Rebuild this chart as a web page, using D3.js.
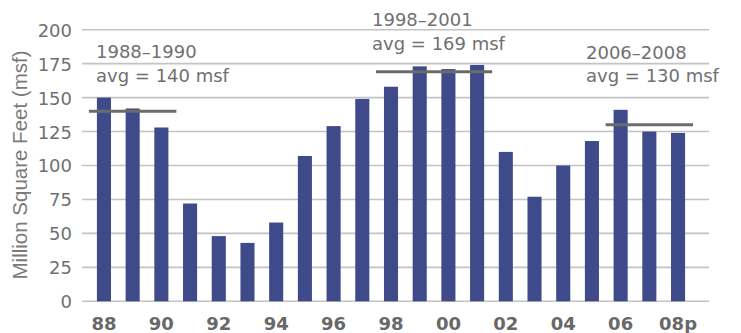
<!DOCTYPE html>
<html>
<head>
<meta charset="utf-8">
<script src="https://cdn.jsdelivr.net/npm/d3@7"></script>
<style>
  html, body { margin: 0; padding: 0; background: #fff; }
  svg { display: block; }
</style>
</head>
<body>
<svg id="chart" width="741" height="333"></svg>
<script>
// Annual completions, million square feet
const years = ["88","89","90","91","92","93","94","95","96","97","98","99","00","01","02","03","04","05","06","07","08p"];
const completions = [150, 142, 128, 72, 48, 43, 58, 107, 129, 149, 158, 173, 171, 174, 110, 77, 100, 118, 141, 125, 124];
const yTicks = [0, 25, 50, 75, 100, 125, 150, 175, 200];
const xTickLabels = ["88","90","92","94","96","98","00","02","04","06","08p"];

// Period averages
const periodNames = ["1988\u20131990", "1998\u20132001", "2006\u20132008"];
const periodStart = ["88", "98", "06"];
const periodEnd = ["90", "01", "08p"];
const periodAvg = [140, 169, 130];

const svg = d3.select("#chart");

const y = d3.scaleLinear().domain([0, 200]).range([301.3, 29.7]);
const x = d3.scaleBand().domain(years).range([89.6, 692.4]).paddingInner(0.51).paddingOuter(0.255);

const gridLeft = 82, gridRight = 709;

// Horizontal gridlines
svg.append("g")
  .selectAll("line")
  .data(yTicks)
  .join("line")
  .attr("x1", gridLeft).attr("x2", gridRight)
  .attr("y1", d => y(d)).attr("y2", d => y(d))
  .attr("stroke", "#c3c3c3")
  .attr("stroke-width", 1.6);

// Y axis labels
const yAxis = d3.axisLeft(y).tickValues(yTicks).tickSize(0).tickPadding(0);
const gy = svg.append("g").attr("transform", `translate(72,0)`).call(yAxis);
gy.select(".domain").remove();
gy.selectAll("text")
  .attr("font-family", "DejaVu Sans")
  .attr("font-size", 18)
  .attr("fill", "#707070")
  .attr("dy", "0.36em");

// Bars
svg.append("g")
  .selectAll("rect")
  .data(completions)
  .join("rect")
  .attr("x", (d, i) => x(years[i]))
  .attr("width", x.bandwidth())
  .attr("y", d => y(d))
  .attr("height", d => y(0) - y(d))
  .attr("fill", "#3e4a8a");

// X axis labels (every other year)
const xAxis = d3.axisBottom(x).tickValues(xTickLabels).tickSize(0).tickPadding(0);
const gx = svg.append("g").attr("transform", `translate(0,${y(0)})`).call(xAxis);
gx.select(".domain").remove();
gx.selectAll("text")
  .attr("font-family", "DejaVu Sans")
  .attr("font-weight", "bold")
  .attr("font-size", 18)
  .attr("fill", "#686868")
  .attr("dy", null)
  .attr("y", 28.5);

// Average lines
svg.append("g")
  .selectAll("line")
  .data(periodAvg)
  .join("line")
  .attr("x1", (d, i) => x(periodStart[i]) - 8)
  .attr("x2", (d, i) => x(periodEnd[i]) + x.bandwidth() + 8)
  .attr("y1", d => y(d)).attr("y2", d => y(d))
  .attr("stroke", "#6b6b6b")
  .attr("stroke-width", 3);

// Period annotations
const labelX = [96, 372, 586];
const labelY = [58, 26, 58.5];
const ann = svg.append("g")
  .attr("font-family", "DejaVu Sans")
  .attr("font-size", 18)
  .attr("fill", "#707070");
periodNames.forEach((name, i) => {
  const t = ann.append("text").attr("x", labelX[i]).attr("y", labelY[i]);
  t.append("tspan").attr("x", labelX[i]).text(name);
  t.append("tspan").attr("x", labelX[i]).attr("dy", 23.5).text(`avg = ${periodAvg[i]} msf`);
});

// Y axis title
svg.append("text")
  .attr("transform", "translate(26.5,165) rotate(-90)")
  .attr("text-anchor", "middle")
  .attr("font-family", "Liberation Sans")
  .attr("font-size", 20.5)
  .attr("fill", "#7a7a7a")
  .text("Million Square Feet (msf)");
</script>
</body>
</html>
